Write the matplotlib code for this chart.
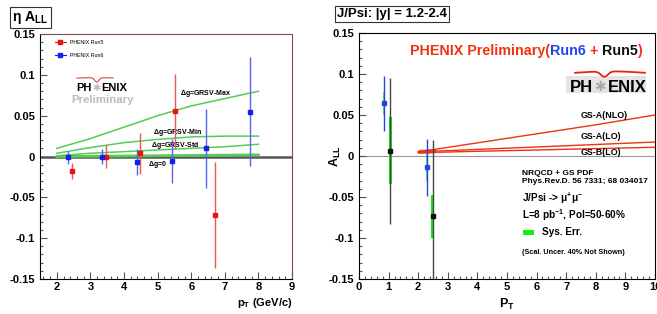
import numpy as np
import matplotlib
matplotlib.use('Agg')
import matplotlib.pyplot as plt
from matplotlib.lines import Line2D
from matplotlib.patches import Rectangle
from matplotlib.ticker import MultipleLocator

plt.rcParams['font.family'] = ['Liberation Sans', 'DejaVu Sans']
plt.rcParams['font.weight'] = 'bold'
plt.rcParams['mathtext.fontset'] = 'custom'
plt.rcParams['mathtext.rm'] = 'Liberation Sans:bold'
plt.rcParams['mathtext.bf'] = 'Liberation Sans:bold'
plt.rcParams['mathtext.it'] = 'Liberation Sans:bold'

# ---- left panel: eta A_LL ----
run5_pt = [2.45, 3.46, 4.49, 5.52, 6.72]
run5_all = [-0.018, 0.0, 0.004, 0.056, -0.072]
run5_err = [0.010, 0.014, 0.025, 0.045, 0.065]

run6_pt = [2.33, 3.35, 4.38, 5.43, 6.45, 7.76]
run6_all = [-0.001, 0.0, -0.0065, -0.006, 0.010, 0.055]
run6_err = [0.008, 0.009, 0.016, 0.027, 0.048, 0.067]

grsv_pt = [2, 3, 4, 5, 6, 7, 8]
grsv_max = [0.010, 0.022, 0.036, 0.050, 0.062, 0.071, 0.080]
grsv_min = [0.004, 0.011, 0.017, 0.021, 0.024, 0.025, 0.025]
grsv_std = [0.001, 0.004, 0.006, 0.008, 0.010, 0.012, 0.015]
grsv_zero = [0.0, 0.0003, 0.0006, 0.001, 0.0013, 0.0017, 0.002]

# ---- right panel: J/Psi ----
jpsi6_pt = [0.84, 2.29]
jpsi6_all = [0.064, -0.014]
jpsi6_err = [0.033, 0.035]
jpsi6_sys = [0.014, 0.016]

jpsi5_pt = [1.05, 2.50]
jpsi5_all = [0.0065, -0.0735]
jpsi5_err = [0.089, 0.093]
jpsi5_sys = [0.041, 0.026]

gs_pt = [2, 4, 6, 8, 10]
gsa_nlo = [0.005, 0.016, 0.027, 0.038, 0.050]
gsa_lo = [0.005, 0.008, 0.011, 0.014, 0.017]
gsb_lo = [0.004, 0.0057, 0.0073, 0.009, 0.0106]
band_pt = [2.0, 2.3, 2.6]
band_lo = [0.003, 0.0035, 0.004]
band_hi = [0.008, 0.0085, 0.009]

fig = plt.figure(figsize=(6.57, 3.14), dpi=100)
ax1 = fig.add_axes([0.0609, 0.1115, 0.3836, 0.780])
ax2 = fig.add_axes([0.5464, 0.1115, 0.4505, 0.7835])


def root_style(ax, xmin, xmax, xminor):
    ax.set_xlim(xmin, xmax)
    ax.set_ylim(-0.15, 0.15)
    ax.yaxis.set_major_locator(MultipleLocator(0.05))
    ax.yaxis.set_minor_locator(MultipleLocator(0.01))
    ax.xaxis.set_major_locator(MultipleLocator(1))
    ax.xaxis.set_minor_locator(MultipleLocator(xminor))
    ax.tick_params(which='both', direction='in', top=False, right=False,
                   labelsize=8, width=0.8, color='#555555')
    ax.tick_params(axis='x', pad=2.5)
    ax.tick_params(which='major', length=5)
    ax.tick_params(which='minor', length=2.5)
    ax.yaxis.set_major_formatter(plt.FuncFormatter(lambda v, p: '0' if abs(v) < 1e-9 else ('%g' % v)))


root_style(ax1, 1.5, 9, 0.2)
for s in ['top', 'right']:
    ax1.spines[s].set_color('#8b4a4a')
ax1.axhline(0, color='#555555', lw=1.8, zorder=1)

green = '#55cc55'
ax1.plot(grsv_pt, grsv_max, color=green, lw=1.1)
ax1.plot(grsv_pt, grsv_min, color=green, lw=1.1)
ax1.plot(grsv_pt, grsv_std, color=green, lw=1.1)
ax1.plot(grsv_pt, grsv_zero, color=green, lw=2.0)

ax1.errorbar(run5_pt, run5_all, yerr=run5_err, fmt='s', color='#ee1111',
             ecolor='#ee5555', ms=3.5, elinewidth=1.0, capsize=0, zorder=5)
ax1.errorbar(run6_pt, run6_all, yerr=run6_err, fmt='s', color='#1122ee',
             ecolor='#5566ee', ms=3.5, elinewidth=1.0, capsize=0, zorder=5)

lab_kw = dict(fontsize=5, fontweight='bold', ha='center', va='center')
ax1.text(6.43, 0.077, r'$\Delta$g=GRSV-Max', **lab_kw)
ax1.text(5.6, 0.029, r'$\Delta$g=GRSV-Min', **lab_kw)
ax1.text(5.52, 0.0138, r'$\Delta$g=GRSV-Std', **lab_kw)
ax1.text(5.0, -0.0098, r'$\Delta$g=0', **lab_kw)

handles = [Line2D([], [], color='#ee1111', marker='s', ms=3, lw=0.8),
           Line2D([], [], color='#1122ee', marker='s', ms=3, lw=0.8)]
ax1.legend(handles, ['PHENIX Run5', 'PHENIX Run6'], loc='upper left',
           bbox_to_anchor=(0.06, 0.975), frameon=False,
           prop={'size': 3.8, 'weight': 'normal'},
           handlelength=2.0, handletextpad=0.9, labelspacing=1.4,
           borderpad=0, borderaxespad=0)

# left logo
ax1.text(3.04, 0.0845, 'PH', fontsize=8, fontweight='bold', ha='right', va='center')
ax1.text(3.19, 0.0845, '\u2731', fontsize=7, color='#bbbbbb', ha='center', va='center',
         family=['DejaVu Sans'])
ax1.text(3.33, 0.0845, 'ENIX', fontsize=8, fontweight='bold', ha='left', va='center')
ax1.text(3.35, 0.0698, 'Preliminary', fontsize=8.2, fontweight='bold', color='#bbbbbb',
         ha='center', va='center')
t = np.linspace(0, 1, 60)
ax1.plot(0.146 + 0.144 * t, 0.822 - 0.018 * np.exp(-((t - 0.55) / 0.08) ** 2) - 0.006 * (t - 0.55) ** 2,
         color='#dd4444', lw=0.8, transform=ax1.transAxes, clip_on=False)

ax1.text(1.0, -0.068, r'$\mathbf{p_T}$ (GeV/c)', transform=ax1.transAxes,
         fontsize=8, fontweight='bold', ha='right', va='top')
fig.text(0.019, 0.945, r'$\eta$ A$_{LL}$', fontsize=10, fontweight='bold', va='center',
         bbox=dict(facecolor='white', edgecolor='#333333', lw=0.8, pad=1.5))

# ---- right panel ----
root_style(ax2, 0, 10, 0.2)
ax2.axhline(0, color='#999999', lw=0.8, zorder=1)

red = '#ee3311'
ax2.fill_between(band_pt, band_lo, band_hi, color=red, alpha=0.8, lw=0)
ax2.plot(gs_pt, gsa_nlo, color=red, lw=1.0)
ax2.plot(gs_pt, gsa_lo, color=red, lw=1.0)
ax2.plot(gs_pt, gsb_lo, color=red, lw=1.0)

sys_green = '#11ee11'
ax2.bar(jpsi6_pt, [2 * s for s in jpsi6_sys],
        bottom=[a - s for a, s in zip(jpsi6_all, jpsi6_sys)],
        width=0.08, color=sys_green, alpha=0.7, zorder=3)
ax2.bar(jpsi5_pt, [2 * s for s in jpsi5_sys],
        bottom=[a - s for a, s in zip(jpsi5_all, jpsi5_sys)],
        width=0.1, color=sys_green, zorder=3)
ax2.errorbar(jpsi6_pt, jpsi6_all, yerr=jpsi6_err, fmt='s', color='#2244ee',
             ms=2.5, elinewidth=1.0, capsize=0, zorder=4)
ax2.errorbar(jpsi5_pt, jpsi5_all, yerr=jpsi5_err, fmt='s', color='#111111',
             ecolor='#444444', ms=3, elinewidth=1.0, capsize=0, zorder=4)

gs_kw = dict(fontsize=6.4, fontweight='bold', ha='left', va='center')
ax2.text(7.49, 0.0495, 'GS-A(NLO)', **gs_kw)
ax2.text(7.49, 0.0243, 'GS-A(LO)', **gs_kw)
ax2.text(7.49, 0.0040, 'GS-B(LO)', **gs_kw)

# multicolour heading
fig.canvas.draw()
renderer = fig.canvas.get_renderer()
pieces = [('PHENIX Preliminary(', red), ('Run6', '#2244ee'), (' + ', red),
          ('Run5', '#111111'), (')', red)]
xpos, ypos = 1.72, 0.128
for txt, col in pieces:
    tt = ax2.text(xpos, ypos, txt, color=col, fontsize=10.3, fontweight='bold',
                  ha='left', va='center')
    bb = tt.get_window_extent(renderer).transformed(ax2.transData.inverted())
    xpos = bb.x1

# right logo
ax2.add_patch(Rectangle((0.70, 0.755), 0.27, 0.07, transform=ax2.transAxes,
                        facecolor='#e4e4e4', edgecolor='none', zorder=1))
ax2.text(7.9, 0.0840, 'PH', fontsize=12, fontweight='bold', ha='right', va='center')
ax2.text(8.14, 0.0840, '\u2731', fontsize=10, color='#aaaaaa', ha='center', va='center',
         family=['DejaVu Sans'])
ax2.text(8.40, 0.0840, 'ENIX', fontsize=12, fontweight='bold', ha='left', va='center')
ax2.plot(0.73 + 0.236 * t, 0.838 - 0.022 * np.exp(-((t - 0.42) / 0.07) ** 2) + 0.006 * np.sin(np.pi * t),
         color='#ee2211', lw=1.3, transform=ax2.transAxes, clip_on=False)

info_kw = dict(fontweight='bold', ha='left', va='center')
ax2.text(5.5, -0.0215, 'NRQCD + GS PDF', fontsize=6, **info_kw)
ax2.text(5.5, -0.031, 'Phys.Rev.D. 56 7331; 68 034017', fontsize=6, **info_kw)
ax2.text(5.5, -0.052, r'J/Psi -> $\mu^{+}\mu^{-}$', fontsize=7.2, **info_kw)
ax2.text(5.5, -0.072, r'L=8 pb$^{-1}$, Pol=50-60%', fontsize=7.2, **info_kw)
ax2.bar([5.73], [0.006], bottom=-0.096, width=0.35, color=sys_green)
ax2.text(6.2, -0.093, 'Sys. Err.', fontsize=7.2, **info_kw)
ax2.text(5.5, -0.118, '(Scal. Uncer. 40% Not Shown)', fontsize=5.2, **info_kw)

ax2.text(5.0, -0.172, r'$\mathbf{P_T}$', fontsize=9, ha='center', va='top')
ax2.text(-0.8, 0.0, r'$\mathbf{A_{LL}}$', fontsize=9, ha='center', va='center', rotation=90)
fig.text(0.513, 0.955, 'J/Psi: |y| = 1.2-2.4', fontsize=9.5, fontweight='bold', va='center',
         bbox=dict(facecolor='white', edgecolor='#333333', lw=0.8, pad=1.5))

fig.savefig('out.png', dpi=100)
